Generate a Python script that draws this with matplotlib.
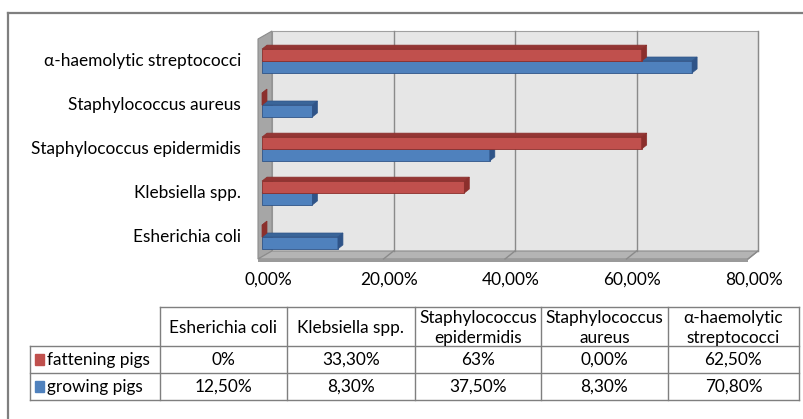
import matplotlib
matplotlib.use('Agg')
import matplotlib.pyplot as plt
from matplotlib.patches import Polygon, Rectangle
import numpy as np

plt.rcParams['font.family'] = ['Lato', 'DejaVu Sans']

categories = ['Esherichia coli', 'Klebsiella spp.', 'Staphylococcus epidermidis',
              'Staphylococcus aureus', 'α-haemolytic streptococci']
table_headers = ['Esherichia coli', 'Klebsiella spp.', 'Staphylococcus\nepidermidis',
                 'Staphylococcus\naureus', 'α-haemolytic\nstreptococci']
fattening = [0.0, 33.3, 62.5, 0.0, 62.5]
growing = [12.5, 8.3, 37.5, 8.3, 70.8]
fattening_labels = ['0%', '33,30%', '63%', '0,00%', '62,50%']
growing_labels = ['12,50%', '8,30%', '37,50%', '8,30%', '70,80%']
series_names = ['fattening pigs', 'growing pigs']
xticks = [0, 20, 40, 60, 80]
xtick_labels = ['0,00%', '20,00%', '40,00%', '60,00%', '80,00%']

red, red_dark, red_side = '#C0504D', '#943634', '#8B2F2C'
blue, blue_dark, blue_side = '#4F81BD', '#3A6599', '#2F5488'
fs = 12.4

W, H = 804, 419
fig = plt.figure(figsize=(W / 100, H / 100), dpi=100)

# pixel overlay for frame and table
ov = fig.add_axes([0, 0, 1, 1])
ov.set_xlim(0, W)
ov.set_ylim(H, 0)
ov.axis('off')
ov.plot([8, 8], [13, H], color='#7F7F7F', lw=1.6)
ov.plot([8, W], [13, 13], color='#7F7F7F', lw=1.6)

# main chart axes
ax_l, ax_r, ax_t, ax_b = 262, 748, 39, 259
ax = fig.add_axes([ax_l / W, 1 - ax_b / H, (ax_r - ax_l) / W, (ax_b - ax_t) / H])
ax.set_xlim(0, 80)
ax.set_ylim(-0.5, 4.5)
ax.axis('off')
ux = 80 / (ax_r - ax_l)
uy = 5 / (ax_b - ax_t)

# walls (3d look)
wdx, wdy = 10 * ux, 8 * uy
ax.add_patch(Rectangle((wdx, -0.5 + wdy), 80, 5, facecolor='#E6E6E6',
                       edgecolor='#A0A0A0', lw=0.8, clip_on=False, zorder=0))
ax.add_patch(Polygon([(-4 * ux, -0.5), (-4 * ux, 4.5), (wdx, 4.5 + wdy), (wdx, -0.5 + wdy)],
                     facecolor='#A6A6A6', edgecolor='#8C8C8C', lw=0.8, clip_on=False, zorder=1))
ax.add_patch(Polygon([(-4 * ux, -0.5), (80, -0.5), (80 + wdx, -0.5 + wdy), (wdx, -0.5 + wdy)],
                     facecolor='#B4B4B4', edgecolor='#8C8C8C', lw=0.8, clip_on=False, zorder=1))
ax.add_patch(Rectangle((-4 * ux, -0.5 - 3 * uy), 80 + 4 * ux, 3 * uy, facecolor='#9A9A9A',
                       edgecolor='none', clip_on=False, zorder=1))
for v in xticks[1:]:
    ax.plot([v + wdx, v + wdx], [-0.5 + wdy, 4.5 + wdy], color='#8A8A8A', lw=1, zorder=1, clip_on=False)
    ax.plot([v, v + wdx], [-0.5, -0.5 + wdy], color='#8A8A8A', lw=1, zorder=2, clip_on=False)

# bars
h = 0.27
bdx, bdy = 5 * ux, 4 * uy
y = np.arange(len(categories))


def bar3d(yc, vals, front, top, side, z):
    ax.barh(yc, vals, height=h, color=front, edgecolor=side, lw=0.6, zorder=z)
    for yy, v in zip(yc, vals):
        lo, hi = yy - h / 2, yy + h / 2
        ax.add_patch(Polygon([(0, hi), (v, hi), (v + bdx, hi + bdy), (bdx, hi + bdy)],
                             facecolor=top, edgecolor=side, lw=0.5, zorder=z, clip_on=False))
        ax.add_patch(Polygon([(v, lo), (v, hi), (v + bdx, hi + bdy), (v + bdx, lo + bdy)],
                             facecolor=side, edgecolor=side, lw=0.5, zorder=z, clip_on=False))


bar3d(y - h / 2, growing, blue, blue_dark, blue_side, 3)
bar3d(y + h / 2, fattening, red, red_dark, red_side, 4)

for v, lab in zip(xticks, xtick_labels):
    ax.text(v + 6 * ux, -0.5 - 21 * uy, lab, ha='center', va='center', fontsize=fs)
for yy, lab in zip(y, categories):
    ax.text(-21 * ux, yy, lab, ha='right', va='center', fontsize=fs)

# data table
col_x = [30, 160, 287, 415, 541, 668, 799]
row_y = [307, 346, 373, 400]
lc = '#7F7F7F'
ov.plot([col_x[1], col_x[-1]], [row_y[0], row_y[0]], color=lc, lw=1)
for ry in row_y[1:]:
    ov.plot([col_x[0], col_x[-1]], [ry, ry], color=lc, lw=1)
ov.plot([col_x[0], col_x[0]], [row_y[1], row_y[-1]], color=lc, lw=1)
for cx in col_x[1:]:
    ov.plot([cx, cx], [row_y[0], row_y[-1]], color=lc, lw=1)
for i, head in enumerate(table_headers):
    ov.text((col_x[i + 1] + col_x[i + 2]) / 2, (row_y[0] + row_y[1]) / 2 + 1.5, head,
            ha='center', va='center', fontsize=fs, linespacing=1.3)
rows = [fattening_labels, growing_labels]
for r, (labels, name, col) in enumerate(zip(rows, series_names, [red, blue])):
    cy = (row_y[r + 1] + row_y[r + 2]) / 2
    ov.add_patch(Rectangle((col_x[0] + 5, cy - 5.5), 9, 11, facecolor=col, edgecolor=col))
    ov.text(col_x[0] + 17, cy, name, ha='left', va='center', fontsize=fs)
    for i, lab in enumerate(labels):
        ov.text((col_x[i + 1] + col_x[i + 2]) / 2, cy, lab, ha='center', va='center', fontsize=fs)

fig.savefig('out.png', dpi=100)
